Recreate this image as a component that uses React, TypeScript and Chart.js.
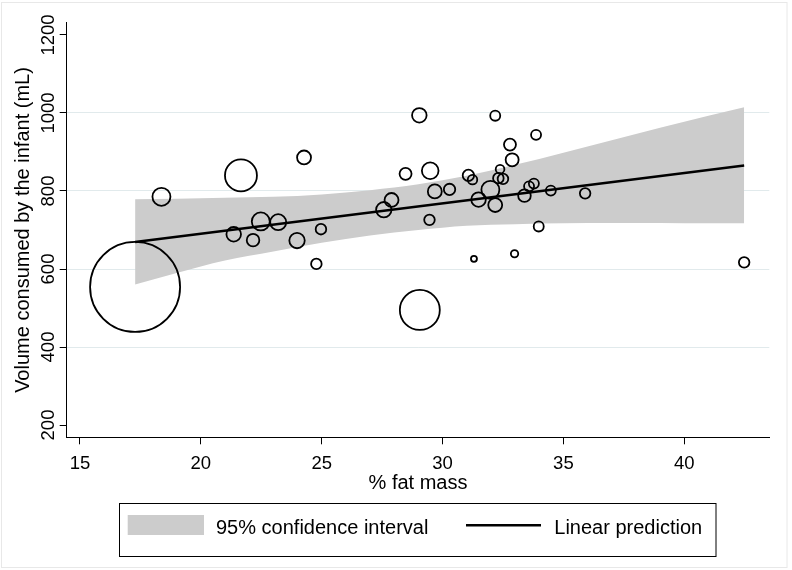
import React, { useEffect, useRef } from "react";
import { Chart, registerables } from "chart.js";

Chart.register(...registerables);

// ---- data ----
const fatMass = [
  17.28, 18.37, 21.66, 24.27, 21.36, 22.16, 22.48, 23.2, 23.98, 24.97, 24.78,
  27.57, 27.89, 28.47, 29.04, 29.49, 29.68, 29.46, 29.06,
  32.18, 33.87, 32.79, 32.88, 31.07, 31.24, 32.38, 32.31, 32.5, 30.29, 31.98,
  31.49, 32.18, 33.39, 33.58, 33.78, 34.48, 35.9, 33.98, 32.98, 31.3, 42.48,
];
const volume = [
  554, 785, 840, 886, 689, 674, 722, 720, 673, 702, 613,
  752, 777, 844, 994, 852, 799, 726, 495,
  993, 944, 919, 880, 840, 829, 856, 833, 831, 804, 803,
  778, 764, 788, 812, 819, 801, 794, 709, 639, 626, 617,
];
const weight = [
  225, 9, 28.4, 5.4, 5.9, 4.4, 9, 7.1, 6.6, 3.1, 3.1,
  6.6, 5.4, 4, 5.9, 7.7, 5.4, 3.1, 44.4,
  2.8, 2.8, 4, 4.7, 3.6, 2.5, 2.1, 3.1, 3.1, 3.6, 9,
  5.9, 5.4, 4.4, 2.8, 2.8, 2.8, 3.1, 2.8, 1.5, 1, 3.1,
];
const fitX = [17.28, 42.48];
const fitY = [669, 865.6];
const ciX = [17.28, 19, 21, 23, 25, 27, 29, 31, 33, 35, 37, 39, 41, 42.48];
const ciUpper = [779, 780, 783, 785, 791, 802, 817, 839, 867, 898, 930, 962, 993, 1015];
const ciLower = [560, 590, 622, 645, 667, 686, 700, 711, 715, 717, 718, 718, 717, 717];
const xTicks = [15, 20, 25, 30, 35, 40];
const yTicks = [200, 400, 600, 800, 1000, 1200];
const xTitle = "% fat mass";
const yTitle = "Volume consumed by the infant (mL)";
const legendLabels = ["95% confidence interval", "Linear prediction"];

const FONT = '"Liberation Sans", Arial, Helvetica, sans-serif';
const BAND = "#cccccc";
const GRID = "#e1eaec";

const textPlugin = {
  id: "stataText",
  afterDraw(chart: any) {
    const ctx = chart.ctx as CanvasRenderingContext2D;
    const xs = chart.scales.x;
    const ys = chart.scales.y;
    const area = chart.chartArea;
    ctx.save();
    // faint outer frame
    ctx.strokeStyle = "#e8e8e8";
    ctx.lineWidth = 1;
    ctx.strokeRect(1.5, 2.5, 785.5, 565);

    ctx.fillStyle = "#000";
    // y tick labels (rotated)
    ctx.font = `18.5px ${FONT}`;
    ctx.textAlign = "center";
    ctx.textBaseline = "alphabetic";
    for (const v of yTicks) {
      const py = ys.getPixelForValue(v);
      ctx.save();
      ctx.translate(53.5, py);
      ctx.rotate(-Math.PI / 2);
      ctx.fillText(String(v), 0, 0);
      ctx.restore();
    }
    // x tick labels
    for (const v of xTicks) {
      const px = xs.getPixelForValue(v);
      ctx.fillText(String(v), px, 468.5);
    }
    // axis titles
    ctx.font = `20px ${FONT}`;
    ctx.fillText(xTitle, (area.left + area.right) / 2, 488.5);
    ctx.save();
    ctx.translate(29, (area.top + area.bottom) / 2);
    ctx.rotate(-Math.PI / 2);
    ctx.fillText(yTitle, 0, 0);
    ctx.restore();

    // legend
    ctx.strokeStyle = "#000";
    ctx.lineWidth = 1;
    ctx.strokeRect(119.5, 503.5, 596.5, 53);
    ctx.fillStyle = BAND;
    ctx.fillRect(127.7, 515, 76.3, 20);
    ctx.fillStyle = "#000";
    ctx.textAlign = "left";
    ctx.fillText(legendLabels[0], 216, 534);
    ctx.beginPath();
    ctx.lineWidth = 2.5;
    ctx.moveTo(466, 525.3);
    ctx.lineTo(541, 525.3);
    ctx.stroke();
    ctx.fillText(legendLabels[1], 554.3, 534);
    ctx.restore();
  },
};

export default function App() {
  const ref = useRef<HTMLCanvasElement | null>(null);

  useEffect(() => {
    if (!ref.current) return;
    const points = fatMass.map((x, i) => ({ x, y: volume[i], r: 3 * Math.sqrt(weight[i]) }));
    const chart = new Chart(ref.current, {
      type: "scatter",
      data: {
        datasets: [
          {
            type: "bubble",
            label: "obs",
            data: points,
            backgroundColor: "rgba(0,0,0,0)",
            borderColor: "#000",
            borderWidth: 1.8,
            order: 0,
          } as any,
          {
            type: "line",
            label: legendLabels[1],
            data: fitX.map((x, i) => ({ x, y: fitY[i] })),
            borderColor: "#000",
            borderWidth: 2.5,
            pointRadius: 0,
            fill: false,
            order: 1,
          } as any,
          {
            type: "line",
            label: legendLabels[0],
            data: ciX.map((x, i) => ({ x, y: ciUpper[i] })),
            borderColor: "rgba(0,0,0,0)",
            borderWidth: 1,
            backgroundColor: BAND,
            pointRadius: 0,
            cubicInterpolationMode: "monotone",
            fill: "+1",
            order: 2,
          } as any,
          {
            type: "line",
            label: "lower",
            data: ciX.map((x, i) => ({ x, y: ciLower[i] })),
            borderColor: "rgba(0,0,0,0)",
            borderWidth: 1,
            backgroundColor: BAND,
            pointRadius: 0,
            cubicInterpolationMode: "monotone",
            fill: false,
            order: 3,
          } as any,
        ],
      },
      options: {
        responsive: false,
        animation: false,
        events: [],
        layout: { autoPadding: false, padding: { left: 0, top: 22.7, right: 22.7, bottom: 0 } },
        plugins: { legend: { display: false }, tooltip: { enabled: false } },
        scales: {
          x: {
            type: "linear",
            min: 14.45,
            max: 43.52,
            afterBuildTicks: (s: any) => {
              s.ticks = xTicks.map((v) => ({ value: v }));
            },
            afterFit: (s: any) => {
              s.height = 132.7;
            },
            ticks: { display: false },
            grid: { drawOnChartArea: false, drawTicks: true, tickLength: 7, tickColor: "#000", tickWidth: 1 },
            border: { display: true, color: "#000", width: 1 },
          },
          y: {
            type: "linear",
            min: 168.5,
            max: 1231.5,
            afterBuildTicks: (s: any) => {
              s.ticks = yTicks.map((v) => ({ value: v }));
            },
            afterFit: (s: any) => {
              s.width = 66.7;
            },
            ticks: { display: false },
            grid: {
              color: (c: any) =>
                c.tick && (c.tick.value === yTicks[0] || c.tick.value === yTicks[yTicks.length - 1])
                  ? "rgba(0,0,0,0)"
                  : GRID,
              lineWidth: 1,
              drawTicks: true,
              tickLength: 7,
              tickColor: "#000",
              tickWidth: 1,
            },
            border: { display: true, color: "#000", width: 1 },
          },
        },
      } as any,
      plugins: [textPlugin],
    });
    return () => chart.destroy();
  }, []);

  return (
    <div style={{ position: "fixed", left: 0, top: 0, width: 792, height: 570, background: "#fff" }}>
      <canvas ref={ref} width={792} height={570} style={{ display: "block" }} />
    </div>
  );
}
